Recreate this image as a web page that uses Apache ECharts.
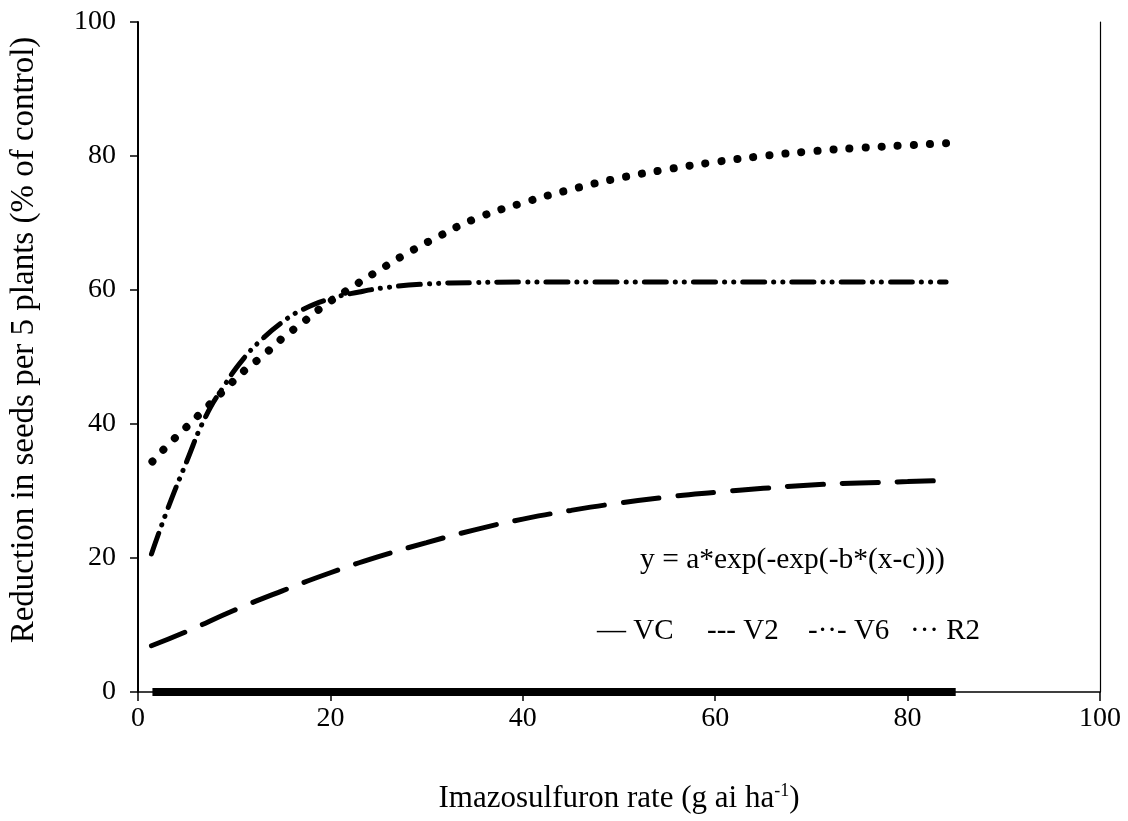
<!DOCTYPE html>
<html>
<head>
<meta charset="utf-8">
<script src="https://cdn.jsdelivr.net/npm/echarts@6/dist/echarts.min.js"></script>
<style>
html,body{margin:0;padding:0;background:#fff;}
#chart{width:1128px;height:821px;}
</style>
</head>
<body>
<div id="chart"></div>
<script>
// ---- data ----
var xTicks = [0, 20, 40, 60, 80, 100];
var yTicks = [0, 20, 40, 60, 80, 100];

var vcX = [1.5, 85];
var vcY = [0, 0];

var v2X = [1.4, 5, 10, 15, 20, 25, 30, 35, 40, 45, 50, 55, 60, 65, 70, 75, 80, 84];
var v2Y = [6.9, 9.0, 12.2, 15.1, 17.8, 20.2, 22.3, 24.2, 25.8, 27.1, 28.2, 29.1, 29.8, 30.4, 30.9, 31.2, 31.4, 31.6];

var v6X = [1.4, 3, 5, 7, 9, 11, 13, 15, 17, 20, 23, 26, 30, 35, 40, 50, 60, 70, 84];
var v6Y = [20.6, 27.0, 34.2, 41.0, 45.8, 49.8, 52.8, 55.2, 57.0, 58.7, 59.7, 60.4, 60.9, 61.1, 61.2, 61.2, 61.2, 61.2, 61.2];

var r2X = [1.5, 3, 5, 7, 9, 11, 13, 15, 17, 19, 22, 25, 28, 31, 35, 40, 45, 50, 55, 60, 65, 70, 75, 80, 84];
var r2Y = [34.4, 36.7, 39.5, 42.3, 45.1, 47.9, 50.2, 52.8, 55.0, 57.3, 60.2, 62.9, 65.5, 67.8, 70.6, 73.0, 75.0, 76.7, 78.0, 79.1, 80.0, 80.7, 81.2, 81.6, 81.9];

var formulaText = 'y = a*exp(-exp(-b*(x-c)))';
var legendItems = ['\u2014 VC', '--- V2', '-\u00b7\u00b7- V6', '\u00b7\u00b7\u00b7 R2'];
var xName = 'Imazosulfuron rate (g ai ha';
var yName = 'Reduction in seeds per 5 plants (% of control)';

function pairs(xs, ys) { return xs.map(function (x, i) { return [x, ys[i]]; }); }

var FONT = '"Liberation Serif", "Times New Roman", serif';
var chart = echarts.init(document.getElementById('chart'), null, {renderer: 'canvas'});

var legendLeft = [597, 707, 808, 910];

var option = {
  backgroundColor: '#ffffff',
  animation: false,
  grid: {left: 137, right: 28, top: 22, bottom: 129, containLabel: false},
  xAxis: {
    type: 'value', min: xTicks[0], max: xTicks[xTicks.length - 1], interval: 20,
    name: '{m|' + xName + '}{s|-1}{m|)}',
    nameLocation: 'middle', nameGap: 90,
    nameTextStyle: {
      rich: {
        m: {fontFamily: FONT, fontSize: 31, color: '#000'},
        s: {fontFamily: FONT, fontSize: 18, color: '#000', padding: [0, 0, 15, 0]}
      }
    },
    axisLine: {show: true, onZero: false, lineStyle: {color: '#000', width: 1.5}},
    axisTick: {show: true, inside: false, length: 9, lineStyle: {color: '#000', width: 1.5}},
    axisLabel: {fontFamily: FONT, fontSize: 28, color: '#000', margin: 13},
    splitLine: {show: false}
  },
  yAxis: [{
    type: 'value', min: yTicks[0], max: yTicks[yTicks.length - 1], interval: 20,
    name: yName, nameLocation: 'middle', nameGap: 97, nameRotate: 90,
    nameTextStyle: {fontFamily: FONT, fontSize: 33, color: '#000', padding: [0, 0, 0, 34]},
    axisLine: {show: true, onZero: false, lineStyle: {color: '#000', width: 2}},
    axisTick: {show: true, inside: false, length: 8, lineStyle: {color: '#000', width: 1.5}},
    axisLabel: {fontFamily: FONT, fontSize: 28, color: '#000', margin: 22},
    splitLine: {show: false}
  }, {
    type: 'value', min: 0, max: 100, interval: 20, position: 'right',
    axisLine: {show: true, onZero: false, lineStyle: {color: '#000', width: 1.2}},
    axisTick: {show: false}, axisLabel: {show: false}, splitLine: {show: false}
  }],
  series: [
    {
      name: 'VC', type: 'line', data: pairs(vcX, vcY), symbol: 'none', z: 5,
      lineStyle: {color: '#000', width: 8, type: 'solid', cap: 'butt'}
    },
    {
      name: 'V2', type: 'line', data: pairs(v2X, v2Y), symbol: 'none', smooth: 0.5,
      lineStyle: {color: '#000', width: 5, type: [36, 19], cap: 'round'}
    },
    {
      name: 'V6', type: 'line', data: pairs(v6X, v6Y), symbol: 'none', smooth: 0.5,
      lineStyle: {color: '#000', width: 5, type: [22, 9, 0.1, 9, 0.1, 9], cap: 'round'}
    },
    {
      name: 'R2', type: 'line', data: pairs(r2X, r2Y), symbol: 'none', smooth: 0.5,
      lineStyle: {color: '#000', width: 8, type: [0.1, 16], cap: 'round'}
    }
  ],
  graphic: [
    {
      type: 'text', left: 640, top: 545,
      style: {text: formulaText, fontFamily: FONT, fontSize: 29.5, fill: '#000'}
    }
  ].concat(legendItems.map(function (t, i) {
    return {
      type: 'text', left: legendLeft[i], top: 617,
      style: {text: t, fontFamily: FONT, fontSize: 29, fill: '#000'}
    };
  }))
};
chart.setOption(option);
</script>
</body>
</html>
